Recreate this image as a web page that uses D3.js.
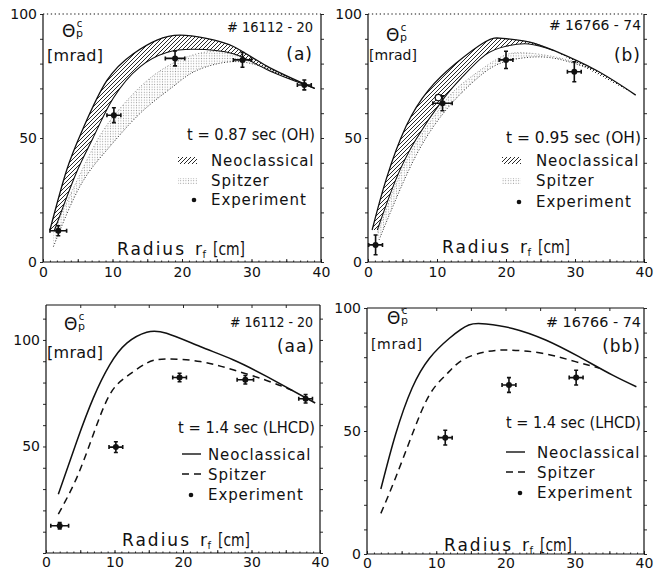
<!DOCTYPE html>
<html>
<head>
<meta charset="UTF-8">
<script src="https://d3js.org/d3.v7.min.js"></script>
<style>
  body { margin: 0; background: #fff; }
  svg { display: block; }
  text { font-family: "DejaVu Sans", sans-serif; fill: #111; }
</style>
</head>
<body>
<svg></svg>
<script>
const width = 659, height = 571;

// [radius cm, theta mrad]
const neoUpperA = [[1.0,12.9],[3.4,37],[5.8,54],[9.2,73.2],[13,84],[16.4,89.5],[19.7,91.5],[23.5,90.2],[27.4,86.9],[32.2,79],[39.1,70]];
const neoLowerA = [[1.6,12.4],[4.8,36],[7.2,50],[10.1,66],[14,78.8],[17.8,84.5],[21.6,85.8],[27.4,84],[32.2,77.6],[39.1,70]];
const spUpperA  = [[1.5,12.5],[6.8,43.8],[10.1,58.6],[14,70.7],[17.8,78.8],[21.6,83.5],[26.4,84.4],[32.2,78.2],[37,72.5]];
const spLowerA  = [[1.5,6.2],[5.3,30.4],[9.2,45.2],[14,60],[18.7,70.7],[22.1,77.2],[27.4,80.8],[32.2,78],[37,72.5]];
// [radius, theta, dr, dtheta]
const expA = [[2.2,12.6,1.2,2],[10.2,59.2,1,3],[19,82.1,1.4,3],[28.7,81.5,1.3,3],[37.6,71.4,1,2]];

const neoUpperB = [[0.6,12.9],[2.6,33],[5.5,54.6],[8.8,69.4],[12.7,80],[17,88.8],[19.5,90.2],[23.3,88.8],[27,85.2],[33,77.4],[38.8,67.3]];
const neoLowerB = [[1.35,12.9],[4,33],[6.9,49.2],[10.8,65.3],[13.7,74.7],[17,83.5],[20,87],[23.3,87.9],[27,85.2]];
const spUpperB  = [[1.4,12],[4,31],[6.9,47.5],[10.8,63.5],[13.7,72],[18.5,81.5],[22.4,84.4],[28.2,82],[33,77.4]];
const spLowerB  = [[1.6,8.9],[4,25],[7.4,45.2],[11.7,62.6],[16.1,74.7],[19.9,80.8],[25.7,82.6],[30.6,79.4],[33,77.4]];
const expB  = [[1.1,6.9,1,4],[10.8,64,1.4,3],[20,81.5,1,3.5],[29.9,76.7,1,4]];
const openB = [[10.2,66.3]];

const neoAA = [[1.8,27.6],[4.5,52.5],[6.9,72.7],[9.3,88.3],[11.8,98.5],[14.7,103.6],[17.6,103.1],[22.5,96.9],[27.3,90.7],[32.2,82.9],[39.3,70.4]];
const spAA  = [[1.8,18.2],[4.5,35.4],[6.9,55.6],[9.3,74.3],[11.8,82.9],[14.7,89.1],[17.6,91.1],[22.5,89.9],[27.3,86],[32.2,81],[36,76.2]];
const expAA = [[2,12.8,1.3,1.5],[10.2,49.7,1,2.5],[19.5,82.4,1,2],[29.1,81.3,1.2,2],[37.9,72.4,1,2]];

const neoBB = [[2,26.4],[4.1,48.4],[6.5,67.4],[9,79.5],[11.9,87.7],[14.7,93.1],[17.2,93.5],[21,91.7],[25.8,87],[30.6,80.2],[35.4,72.8],[38.9,68]];
const spBB  = [[2,16.5],[4.1,30.8],[6.5,48.4],[9,64.6],[11.4,72.8],[13.8,78.9],[17.2,82.2],[20.5,82.9],[25.3,81.6],[30.1,78.2],[33.5,75.6]];
const expBB = [[11.3,47.3,1,3],[20.5,68.7,1,3],[30.2,71.7,1,3]];

const xTickLabels = [0, 10, 20, 30, 40];
const yLabelsA  = [0, 50, 100];
const yLabelsAA = [50, 100];

const svg = d3.select("svg").attr("width", width).attr("height", height)
    .attr("viewBox", [0, 0, width, height]);

const defs = svg.append("defs");
const hatch = defs.append("pattern").attr("id", "hatch")
    .attr("patternUnits", "userSpaceOnUse").attr("width", 4).attr("height", 4);
hatch.append("path").attr("d", "M-1,1 l2,-2 M0,4 l4,-4 M3,5 l2,-2")
    .attr("stroke", "#111").attr("stroke-width", 0.9);
const dots = defs.append("pattern").attr("id", "dots")
    .attr("patternUnits", "userSpaceOnUse").attr("width", 2.6).attr("height", 2.6);
dots.append("circle").attr("cx", 1.3).attr("cy", 1.3).attr("r", 0.55).attr("fill", "#999");

const panels = [
  { xr: [43, 321], yr: [262, 14], ymax: 100, yLabels: yLabelsA, topDotted: true, kind: "band",
    neoU: neoUpperA, neoL: neoLowerA, spU: spUpperA, spL: spLowerA, exp: expA, open: [],
    theta: [62, 37], mrad: [47, 61, 16, 56], hash: ["# 16112 - 20", 227, 32, 86], tag: ["(a)", 313, 60],
    time: ["t = 0.87 sec (OH)", 187, 140, 128], leg: [178, 211, 166, 186, 205], radius: [117, 255], xlabY: 277 },
  { xr: [368, 644], yr: [262, 14], ymax: 100, yLabels: yLabelsA, topDotted: true, kind: "band",
    neoU: neoUpperB, neoL: neoLowerB, spU: spUpperB, spL: spLowerB, exp: expB, open: openB,
    theta: [386, 41], mrad: [369, 60, 14, 48], hash: ["# 16766 - 74", 549, 30, 92], tag: ["(b)", 641, 61],
    time: ["t = 0.95 sec (OH)", 506, 143, 135], leg: [502, 536, 166, 186, 207], radius: [442, 253], xlabY: 277 },
  { xr: [46, 320], yr: [553, 305], ymax: 116.4, yLabels: yLabelsAA, topDotted: false, kind: "line",
    neo: neoAA, sp: spAA, exp: expAA, open: [],
    theta: [64, 330], mrad: [47, 358, 16, 56], hash: ["# 16112 - 20", 230, 327, 83], tag: ["(aa)", 315, 352],
    time: ["t = 1.4 sec (LHCD)", 178, 433, 137], leg: [182, 208, 460, 480, 500], radius: [122, 546], xlabY: 567 },
  { xr: [367, 644], yr: [554, 308], ymax: 100, yLabels: yLabelsA, topDotted: false, kind: "line",
    neo: neoBB, sp: spBB, exp: expBB, open: [],
    theta: [387, 324], mrad: [371, 349, 14, 51], hash: ["# 16766 - 74", 546, 327, 95], tag: ["(bb)", 641, 352],
    time: ["t = 1.4 sec (LHCD)", 506, 428, 135], leg: [506, 537, 458, 478, 498], radius: [444, 551], xlabY: 568 }
];

function drawPanel(p) {
  const x = d3.scaleLinear().domain([0, 40]).range(p.xr);
  const y = d3.scaleLinear().domain([0, p.ymax]).range(p.yr);
  const g = svg.append("g");
  const line = d3.line().x(d => x(d[0])).y(d => y(d[1])).curve(d3.curveNatural);
  const band = (up, lo) => line(up) + "L" + line(lo.slice().reverse()).slice(1) + "Z";
  const [x0, x1] = p.xr, [yb, yt] = p.yr;

  // axes
  const yTicks = d3.range(0, p.ymax + 0.1, 10);
  g.append("g").attr("transform", `translate(${x0},0)`)
      .call(d3.axisLeft(y).tickValues(yTicks).tickSize(3).tickPadding(3)
        .tickFormat(d => p.yLabels.includes(d) ? d : ""))
      .call(a => a.select(".domain").remove())
      .call(a => a.selectAll("text").attr("font-size", 14).attr("font-family", "DejaVu Sans"));
  g.append("g").attr("transform", `translate(${x1},0)`)
      .call(d3.axisRight(y).tickValues(yTicks).tickSize(3).tickFormat(""))
      .call(a => a.select(".domain").remove());
  g.append("g").attr("transform", `translate(0,${yb})`)
      .call(d3.axisTop(x).tickValues(d3.range(0, 41, 1)).tickSize(1.5).tickFormat(""))
      .call(a => a.select(".domain").remove());
  g.append("g").attr("transform", `translate(0,${yb})`)
      .call(d3.axisTop(x).tickValues(d3.range(0, 41, 5)).tickSize(3).tickFormat(""))
      .call(a => a.select(".domain").remove());
  g.append("g").attr("transform", `translate(0,${yb})`)
      .call(d3.axisBottom(x).tickValues(xTickLabels).tickSize(0))
      .call(a => a.select(".domain").remove())
      .call(a => a.selectAll("text").attr("font-size", 14).attr("font-family", "DejaVu Sans")
        .attr("y", p.xlabY - yb).attr("dy", 0));
  if (!p.topDotted) {
    g.append("g").attr("transform", `translate(0,${yt})`)
        .call(d3.axisBottom(x).tickValues(d3.range(5, 40, 5)).tickSize(3).tickFormat(""))
        .call(a => a.select(".domain").remove());
  }
  g.selectAll(".tick line").attr("stroke", "#111").attr("stroke-width", 0.9);
  const frame = g.append("g").attr("stroke", "#111").attr("stroke-width", 1.2).attr("fill", "none");
  frame.append("path").attr("d", `M${x1},${yt}V${yb}H${x0}V${yt}`);
  frame.append("path").attr("d", `M${x0},${yt}H${x1}`)
      .attr("stroke-dasharray", p.topDotted ? "1.3,2.6" : null);

  // curves
  if (p.kind === "band") {
    g.append("path").attr("d", band(p.spU, p.spL)).attr("fill", "url(#dots)");
    g.append("path").attr("d", line(p.spL)).attr("fill", "none")
        .attr("stroke", "#333").attr("stroke-width", 1).attr("stroke-dasharray", "1,1.8");
    g.append("path").attr("d", line(p.spU)).attr("fill", "none")
        .attr("stroke", "#777").attr("stroke-width", 0.8).attr("stroke-dasharray", "1,2");
    g.append("path").attr("d", band(p.neoU, p.neoL)).attr("fill", "url(#hatch)");
    g.append("path").attr("d", line(p.neoU)).attr("fill", "none").attr("stroke", "#111").attr("stroke-width", 1.3);
    g.append("path").attr("d", line(p.neoL)).attr("fill", "none").attr("stroke", "#111").attr("stroke-width", 1.1);
  } else {
    g.append("path").attr("d", line(p.neo)).attr("fill", "none").attr("stroke", "#111").attr("stroke-width", 1.5);
    g.append("path").attr("d", line(p.sp)).attr("fill", "none").attr("stroke", "#111").attr("stroke-width", 1.5)
        .attr("stroke-dasharray", "7,5");
  }

  // experiment points
  const pts = g.append("g").attr("stroke", "#111").attr("stroke-width", 1.6);
  p.exp.forEach(([r, v, dr, dv]) => {
    const cx = x(r), cy = y(v), xl = x(r - dr), xh = x(r + dr), yl = y(v - dv), yh = y(v + dv);
    pts.append("path").attr("fill", "none")
        .attr("d", `M${xl},${cy}H${xh}M${cx},${yl}V${yh}M${xl},${cy - 2}v4M${xh},${cy - 2}v4M${cx - 2},${yl}h4M${cx - 2},${yh}h4`);
    pts.append("circle").attr("cx", cx).attr("cy", cy).attr("r", 3).attr("fill", "#111").attr("stroke", "none");
  });
  p.open.forEach(([r, v]) => {
    pts.insert("circle", ":first-child").attr("cx", x(r)).attr("cy", y(v)).attr("r", 3.2)
        .attr("fill", "#fff").attr("stroke-width", 1.2);
  });

  // texts
  const [tx, ty] = p.theta;
  const th = g.append("text").attr("x", tx).attr("y", ty).attr("font-size", 17).text("Θ");
  th.append("tspan").attr("font-size", 11).attr("dx", 0.6).text("p");
  th.append("tspan").attr("font-size", 10).attr("dx", -6.3).attr("dy", -10).text("c");
  const [mx, my, ms, mw] = p.mrad;
  g.append("text").attr("x", mx).attr("y", my).attr("font-size", ms)
      .attr("textLength", mw).attr("lengthAdjust", "spacing").text("[mrad]");
  g.append("text").attr("x", p.hash[1]).attr("y", p.hash[2]).attr("font-size", 14)
      .attr("textLength", p.hash[3]).attr("lengthAdjust", "spacingAndGlyphs").text(p.hash[0]);
  g.append("text").attr("x", p.tag[1]).attr("y", p.tag[2]).attr("font-size", 17)
      .attr("text-anchor", "end").attr("letter-spacing", 1).text(p.tag[0]);
  g.append("text").attr("x", p.time[1]).attr("y", p.time[2]).attr("font-size", 15)
      .attr("textLength", p.time[3]).attr("lengthAdjust", "spacingAndGlyphs").text(p.time[0]);

  const [sx, lx, l1, l2, l3] = p.leg;
  const leg = g.append("g").attr("font-size", 15).attr("letter-spacing", 0.9);
  leg.append("text").attr("x", lx).attr("y", l1).text("Neoclassical");
  leg.append("text").attr("x", lx).attr("y", l2).text("Spitzer");
  leg.append("text").attr("x", lx).attr("y", l3).text("Experiment");
  if (p.kind === "band") {
    g.append("rect").attr("x", sx).attr("y", l1 - 9).attr("width", 19).attr("height", 7).attr("fill", "url(#hatch)");
    g.append("rect").attr("x", sx).attr("y", l2 - 8).attr("width", 19).attr("height", 6).attr("fill", "url(#dots)");
  } else {
    g.append("line").attr("x1", sx).attr("x2", sx + 19).attr("y1", l1 - 6).attr("y2", l1 - 6)
        .attr("stroke", "#111").attr("stroke-width", 1.4);
    g.append("line").attr("x1", sx).attr("x2", sx + 19).attr("y1", l2 - 6).attr("y2", l2 - 6)
        .attr("stroke", "#111").attr("stroke-width", 1.4).attr("stroke-dasharray", "7,5");
  }
  g.append("circle").attr("cx", lx - 17).attr("cy", l3 - 5).attr("r", 2.3).attr("fill", "#111");

  const [rx, ry] = p.radius;
  const rad = g.append("g").attr("font-size", 17);
  rad.append("text").attr("x", rx).attr("y", ry).attr("textLength", 67).attr("lengthAdjust", "spacing").text("Radius");
  rad.append("text").attr("x", rx + 78).attr("y", ry).text("r")
    .append("tspan").attr("font-size", 10).attr("dx", 0.5).attr("dy", 3).text("f");
  rad.append("text").attr("x", rx + 96).attr("y", ry).attr("textLength", 32).attr("lengthAdjust", "spacingAndGlyphs").text("[cm]");
}

panels.forEach(drawPanel);
</script>
</body>
</html>
